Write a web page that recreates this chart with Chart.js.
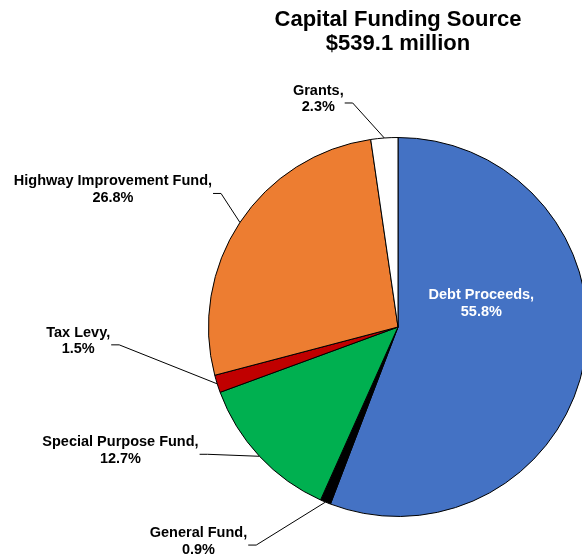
<!DOCTYPE html>
<html>
<head>
<meta charset="utf-8">
<script src="https://cdn.jsdelivr.net/npm/chart.js@4.4.0/dist/chart.umd.min.js"></script>
<style>
  html, body { margin: 0; padding: 0; background: #fff; overflow: hidden; }
  #wrap { position: absolute; left: 0; top: 0; width: 600px; height: 558px; }
</style>
</head>
<body>
<div id="wrap"><canvas id="pieChart" width="600" height="558"></canvas></div>
<script>
const categories = ['Debt Proceeds', 'General Fund', 'Special Purpose Fund', 'Tax Levy', 'Highway Improvement Fund', 'Grants'];
const shares = [55.8, 0.9, 12.7, 1.5, 26.8, 2.3];
const sliceColors = ['#4472C4', '#000000', '#00B050', '#C00000', '#ED7D31', '#FFFFFF'];

// label placement relative to the outer middle of each slice
const labelPlace = [
  { dx: -103, dy: -58, color: '#fff', line: false },
  { dx: -127, dy: 39, color: '#000', line: true },
  { dx: -139, dy: -6, color: '#000', line: true },
  { dx: -139, dy: -43, color: '#000', line: true },
  { dx: -127, dy: -33, color: '#000', line: true },
  { dx: -66, dy: -39, color: '#000', line: true }
];

const sliceLabels = {
  id: 'sliceLabels',
  afterDatasetsDraw(chart) {
    const ctx = chart.ctx;
    const meta = chart.getDatasetMeta(0);
    ctx.save();
    ctx.font = 'bold 14.5px "Liberation Sans", Arial, sans-serif';
    ctx.textAlign = 'center';
    ctx.textBaseline = 'middle';
    meta.data.forEach((arc, i) => {
      const p = arc.getProps(['x', 'y', 'startAngle', 'endAngle', 'outerRadius'], true);
      const mid = (p.startAngle + p.endAngle) / 2;
      const ax = p.x + Math.cos(mid) * p.outerRadius;
      const ay = p.y + Math.sin(mid) * p.outerRadius;
      const place = labelPlace[i];
      const cx = ax + place.dx, cy = ay + place.dy;
      const line1 = categories[i] + ',';
      const line2 = shares[i].toFixed(1) + '%';
      if (place.line) {
        const w = Math.max(ctx.measureText(line1).width, ctx.measureText(line2).width);
        const sx = cx + w / 2 + 1, sy = cy + 4;
        ctx.strokeStyle = '#000';
        ctx.lineWidth = 1;
        ctx.beginPath();
        ctx.moveTo(sx, sy);
        ctx.lineTo(sx + 8, sy);
        ctx.lineTo(ax, ay);
        ctx.stroke();
      }
      ctx.fillStyle = place.color;
      ctx.fillText(line1, cx, cy - 8);
      ctx.fillText(line2, cx, cy + 8.5);
    });
    ctx.restore();
  }
};

new Chart(document.getElementById('pieChart'), {
  type: 'pie',
  data: {
    labels: categories,
    datasets: [{
      data: shares,
      backgroundColor: sliceColors,
      borderColor: '#000',
      borderWidth: 1
    }]
  },
  options: {
    responsive: false,
    animation: false,
    devicePixelRatio: 1,
    layout: { padding: { left: 208, right: 12, top: 0, bottom: 41 } },
    plugins: {
      legend: { display: false },
      tooltip: { enabled: false },
      title: {
        display: true,
        fullSize: false,
        text: ['Capital Funding Source', '$539.1 million'],
        color: '#000',
        font: { family: '"Liberation Sans", Arial, sans-serif', size: 22, weight: 'bold', lineHeight: 1.1 },
        padding: { top: 8, bottom: 80.6 }
      }
    }
  },
  plugins: [sliceLabels]
});
</script>
</body>
</html>
